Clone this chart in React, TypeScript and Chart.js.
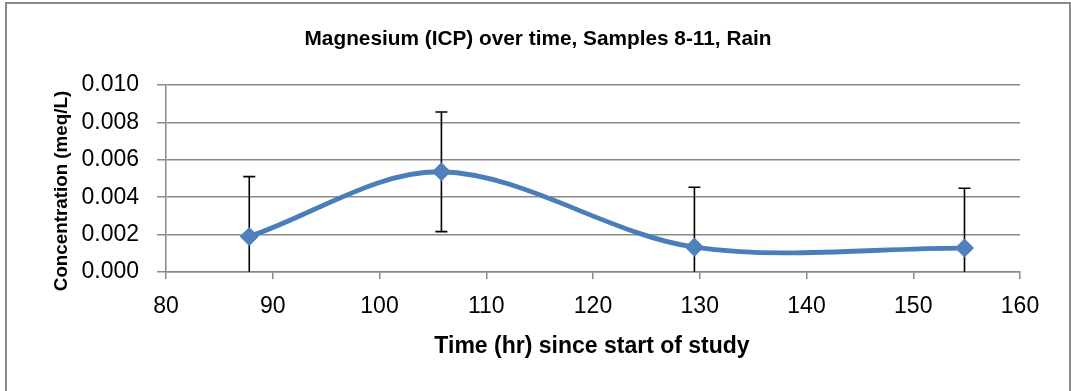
import { useEffect, useRef } from "react";
import { Chart, registerables } from "chart.js";

Chart.register(...registerables);

const CHART_TITLE = "Magnesium (ICP) over time, Samples 8-11, Rain";
const X_TITLE = "Time (hr) since start of study";
const Y_TITLE = "Concentration (meq/L)";

const times = [87.8, 105.8, 129.5, 154.8];
const concentrations = [0.0019, 0.00536, 0.00133, 0.00128];
const errors = [0.0032, 0.0032, 0.0032, 0.0032];

const xTicks = [80, 90, 100, 110, 120, 130, 140, 150, 160];
const yTicks = [0, 0.002, 0.004, 0.006, 0.008, 0.01];

const FONT = "'Liberation Sans', Arial, sans-serif";
const GRID = "#8a8a8a";
const LINE = "#4A7EBB";
const MARKER = "#4F81BD";

const errorBarPlugin = {
  id: "errorBars",
  beforeDatasetsDraw(chart: any) {
    const { ctx, scales } = chart;
    const xs = scales.x;
    const ys = scales.y;
    ctx.save();
    ctx.strokeStyle = "#000000";
    ctx.lineWidth = 1.6;
    const cap = 6;
    times.forEach((t, i) => {
      const v = concentrations[i];
      const e = errors[i];
      const px = xs.getPixelForValue(t);
      const hiVal = Math.min(v + e, ys.max);
      const loVal = v - e;
      const clipped = loVal < ys.min;
      const pTop = ys.getPixelForValue(hiVal);
      const pBot = ys.getPixelForValue(clipped ? ys.min : loVal);
      ctx.beginPath();
      ctx.moveTo(px, pTop);
      ctx.lineTo(px, pBot);
      ctx.moveTo(px - cap, pTop);
      ctx.lineTo(px + cap, pTop);
      if (!clipped) {
        ctx.moveTo(px - cap, pBot);
        ctx.lineTo(px + cap, pBot);
      }
      ctx.stroke();
    });
    ctx.restore();
  },
};

const titlesPlugin = {
  id: "titles",
  afterDraw(chart: any) {
    const { ctx } = chart;
    ctx.save();
    ctx.fillStyle = "#000000";
    ctx.textAlign = "center";
    ctx.textBaseline = "alphabetic";
    ctx.font = `bold 20.8px ${FONT}`;
    ctx.fillText(CHART_TITLE, 538, 44.5);
    ctx.font = `bold 23px ${FONT}`;
    ctx.fillText(X_TITLE, 592, 353);
    ctx.translate(66.5, 191);
    ctx.rotate(-Math.PI / 2);
    ctx.font = `bold 18.8px ${FONT}`;
    ctx.fillText(Y_TITLE, 0, 0);
    ctx.restore();
  },
};

export default function App() {
  const ref = useRef<HTMLCanvasElement | null>(null);

  useEffect(() => {
    if (!ref.current) return;
    const chart = new Chart(ref.current, {
      type: "scatter",
      data: {
        datasets: [
          {
            label: "Magnesium",
            data: times.map((t, i) => ({ x: t, y: concentrations[i] })),
            showLine: true,
            tension: 0.33,
            borderColor: LINE,
            borderWidth: 4.8,
            backgroundColor: MARKER,
            pointStyle: "rectRot",
            pointRadius: 8.5,
            pointHoverRadius: 8.5,
            pointBorderColor: MARKER,
            pointBorderWidth: 1.5,
            pointBackgroundColor: MARKER,
          },
        ],
      },
      options: {
        animation: false,
        responsive: false,
        maintainAspectRatio: false,
        events: [],
        layout: { padding: { left: 0, top: 85, right: 51, bottom: 0 } },
        plugins: {
          legend: { display: false },
          tooltip: { enabled: false },
          title: { display: false },
        },
        scales: {
          x: {
            type: "linear",
            min: xTicks[0],
            max: xTicks[xTicks.length - 1],
            afterBuildTicks: (s: any) => {
              s.ticks = xTicks.map((v) => ({ value: v }));
            },
            afterFit: (s: any) => {
              s.height = 119;
            },
            ticks: {
              font: { family: FONT, size: 23 },
              color: "#000000",
              padding: 14,
              maxRotation: 0,
              autoSkip: false,
              callback: (v: any) => String(v),
            },
            grid: {
              display: true,
              drawOnChartArea: false,
              drawTicks: true,
              tickLength: 7,
              color: GRID,
              lineWidth: 1.5,
            },
            border: { display: true, color: GRID, width: 1.5 },
          },
          y: {
            type: "linear",
            min: yTicks[0],
            max: yTicks[yTicks.length - 1],
            afterBuildTicks: (s: any) => {
              s.ticks = yTicks.map((v) => ({ value: v }));
            },
            afterFit: (s: any) => {
              s.width = 166;
            },
            ticks: {
              font: { family: FONT, size: 23 },
              color: "#000000",
              padding: 18,
              autoSkip: false,
              callback: (v: any) => Number(v).toFixed(3),
            },
            grid: {
              display: true,
              drawOnChartArea: true,
              drawTicks: true,
              tickLength: 9,
              color: GRID,
              lineWidth: 1.5,
            },
            border: { display: true, color: GRID, width: 1.5 },
          },
        },
      },
      plugins: [errorBarPlugin, titlesPlugin],
    });
    return () => chart.destroy();
  }, []);

  return (
    <div
      style={{
        position: "absolute",
        left: 0,
        top: 0,
        width: 1071,
        height: 391,
        overflow: "hidden",
        background: "#ffffff",
      }}
    >
      <div
        style={{
          position: "absolute",
          left: 5,
          top: 2,
          width: 1066,
          height: 400,
          border: "2px solid #8a8a8a",
          boxSizing: "border-box",
        }}
      />
      <canvas
        ref={ref}
        width={1071}
        height={391}
        style={{ position: "absolute", left: 0, top: 0, width: 1071, height: 391 }}
      />
    </div>
  );
}
